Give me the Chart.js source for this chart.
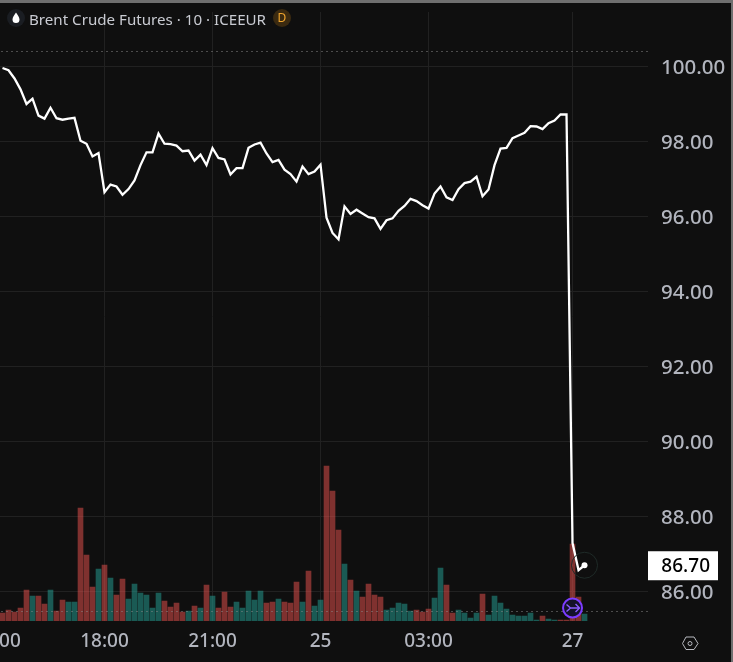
<!DOCTYPE html>
<html><head><meta charset="utf-8">
<script src="https://cdn.jsdelivr.net/npm/chart.js@4"></script>
<style>
html,body{margin:0;padding:0;background:#0f0f0f;width:733px;height:662px;overflow:hidden}
#wrap{position:absolute;left:-30px;top:0;width:763px;height:662px}
#topbar{position:absolute;left:0;top:0;width:733px;height:3px;background:#6f6f6f}
#rightbar{position:absolute;left:731px;top:0;width:2px;height:662px;background:#6f6f6f}
#title{position:absolute;left:29px;top:9px;font:15.15px "Noto Sans",sans-serif;color:#c9cbd2;white-space:nowrap;line-height:20px}
#drop{position:absolute;left:7px;top:9px;width:18px;height:18px;border-radius:9px;background:#1a1d22}
#badge{position:absolute;left:273px;top:9px;width:18px;height:18px;border-radius:9px;background:#3b2a10;color:#f0a52e;font:12px "Noto Sans",sans-serif;text-align:center;line-height:18px}
svg{position:absolute}
</style></head><body>
<div id="wrap"><canvas id="c" width="763" height="662" style="width:763px;height:662px"></canvas></div>
<div id="topbar"></div><div id="rightbar"></div>
<div id="drop"></div>
<svg style="left:11px;top:12px" width="10" height="12" viewBox="0 0 10 12"><path d="M5 0.5C6.5 3 8.5 5 8.5 7.5A3.5 3.5 0 0 1 1.5 7.5C1.5 5 3.5 3 5 0.5Z" fill="#fff"/></svg>
<div id="title">Brent Crude Futures · 10 · ICEEUR</div>
<div id="badge">D</div>
<svg style="left:680px;top:633px" width="20" height="20" viewBox="0 0 20 20"><path d="M6 4H14L18 10.500L14 16.500H6L2.500 10.500Z" fill="none" stroke="#b8bac0" stroke-width="1"/><circle cx="10" cy="10.500" r="2" fill="none" stroke="#b8bac0" stroke-width="1"/></svg>
<script>
const priceIdx = [...Array(98).keys()];
const closes = [99.96,99.90,99.68,99.39,99.00,99.14,98.69,98.61,98.90,98.62,98.58,98.61,98.63,98.02,97.94,97.60,97.69,96.65,96.85,96.80,96.58,96.73,96.96,97.37,97.71,97.71,98.21,97.94,97.93,97.89,97.74,97.76,97.49,97.65,97.37,97.82,97.56,97.52,97.12,97.29,97.29,97.83,97.92,97.97,97.68,97.45,97.51,97.25,97.13,96.93,97.33,97.13,97.20,97.38,95.97,95.56,95.39,96.27,96.07,96.18,96.08,95.98,95.95,95.67,95.90,95.95,96.15,96.28,96.47,96.41,96.30,96.21,96.61,96.80,96.51,96.44,96.73,96.89,96.93,97.06,96.54,96.72,97.37,97.81,97.83,98.09,98.16,98.23,98.41,98.40,98.33,98.49,98.56,98.72,98.72,87.29,86.57,86.70];
const volumes = [8,11,9,13,31,25,25,17,31,10,21,19,19,113,66,34,52,56,43,26,42,22,37,28,26,13,28,20,14,18,9,10,15,13,36,25,13,29,14,19,13,30,21,30,18,19,22,19,18,39,19,50,15,21,155,130,91,57,41,30,24,37,26,24,11,13,18,17,10,11,9,12,23,53,36,8,11,8,3,8,27,6,25,18,12,6,5,5,8,1,5,2,1,1,1,77,24,7];
const up = [0,0,0,0,0,1,0,0,1,0,0,1,1,0,0,0,1,0,1,0,0,1,1,1,1,1,1,0,0,0,0,1,0,1,0,1,0,0,0,1,1,1,1,1,0,0,1,0,0,0,1,0,1,1,0,0,0,1,0,1,0,0,0,0,1,1,1,1,1,0,0,0,1,1,0,0,1,1,1,1,0,1,1,1,1,1,1,1,1,1,0,1,1,0,0,0,0,1];
const timeTicks = [-1,17,35,53,71,95];
const timeLabels = ["15:00","18:00","21:00","25","03:00","27"];
const priceTicks = [86,88,90,92,94,96,98,100];
const lastPrice = 86.70, highLevel = 100.41, lowLevel = 85.48;
const xMax = 107.58, yMin = 85.213, yMax = 101.453;
const GREEN='rgba(38,166,154,.5)', RED='rgba(239,83,80,.5)';

const overlay = {
  id:'overlay',
  afterDatasetsDraw(ch){
    const {ctx,scales:{x,y},chartArea:a}=ch;
    ctx.save();
    ctx.strokeStyle='#8a8a8a';ctx.lineWidth=1;ctx.setLineDash([1,4]);
    [highLevel,lowLevel].forEach(v=>{const p=Math.round(y.getPixelForValue(v))+.5;ctx.beginPath();ctx.moveTo(a.left,p);ctx.lineTo(a.right,p);ctx.stroke();});
    ctx.setLineDash([]);
    const lx=x.getPixelForValue(97), ly=y.getPixelForValue(lastPrice);
    ctx.strokeStyle='#1f2b28';ctx.beginPath();ctx.arc(lx,ly,13,0,Math.PI*2);ctx.stroke();
    const ex=x.getPixelForValue(95), ey=608;
    ctx.fillStyle='#14122a';ctx.strokeStyle='#7c3cff';ctx.lineWidth=2;
    ctx.beginPath();ctx.arc(ex,ey,9.5,0,Math.PI*2);ctx.fill();ctx.stroke();
    ctx.lineWidth=1.4;ctx.strokeStyle='#8a5cff';
    ctx.beginPath();ctx.moveTo(ex-6,ey-3.5);ctx.lineTo(ex-2,ey);ctx.lineTo(ex+7,ey);ctx.moveTo(ex-6,ey+3.5);ctx.lineTo(ex-2,ey);ctx.moveTo(ex+3,ey-4);ctx.lineTo(ex+7,ey);ctx.lineTo(ex+3,ey+4);ctx.stroke();
    const tx=a.right, tw=70, th=29;
    ctx.fillStyle='#fff';ctx.fillRect(tx,ly-th/2+.5,tw,th);
    ctx.fillStyle='#000';ctx.font='500 19px "Noto Sans"';ctx.textAlign='right';ctx.textBaseline='middle';
    ctx.fillText(lastPrice.toFixed(2),tx+62,ly+1);
    ctx.restore();
  }
};

new Chart(document.getElementById('c'),{
  data:{datasets:[
    {type:'line',yAxisID:'y',data:closes.map((v,i)=>({x:priceIdx[i],y:v})),borderColor:'#fff',borderWidth:2.3,tension:0,
     pointRadius:c=>c.dataIndex===closes.length-1?3:0,pointBackgroundColor:'#fff',pointBorderWidth:0,order:1},
    {type:'bar',yAxisID:'v',data:volumes.map((v,i)=>({x:priceIdx[i],y:v})),backgroundColor:up.map(u=>u?GREEN:RED),barThickness:5,order:2}
  ]},
  options:{
    responsive:false,animation:false,
    layout:{padding:{left:26.5,right:0,top:12,bottom:0}},
    plugins:{legend:{display:false},tooltip:{enabled:false}},
    scales:{
      x:{type:'linear',offset:false,min:-1,max:xMax,
        afterBuildTicks(s){s.ticks=timeTicks.map(v=>({value:v}));},
        afterFit(s){s.height=41;s.paddingLeft=0;s.paddingRight=0;},
        ticks:{autoSkip:false,maxRotation:0,padding:9,color:'#b2b5be',font:{family:'"Noto Sans"',size:19,weight:'500'},
          callback:v=>timeLabels[timeTicks.indexOf(v)]},
        grid:{offset:false,color:'#212121',drawTicks:false},border:{display:false}},
      y:{position:'right',min:yMin,max:yMax,
        afterBuildTicks(s){s.ticks=priceTicks.map(v=>({value:v}));},
        afterFit(s){s.width=85;s.paddingTop=0;s.paddingBottom=0;},
        ticks:{padding:13,labelOffset:1.5,color:'#b2b5be',font:{family:'"Noto Sans"',size:20.5,weight:'500'},callback:v=>v.toFixed(2)},
        grid:{color:'#212121',drawTicks:false},border:{display:false}},
      v:{display:false,min:0,max:609}
    }
  },
  plugins:[overlay]
});
</script>
</body></html>
